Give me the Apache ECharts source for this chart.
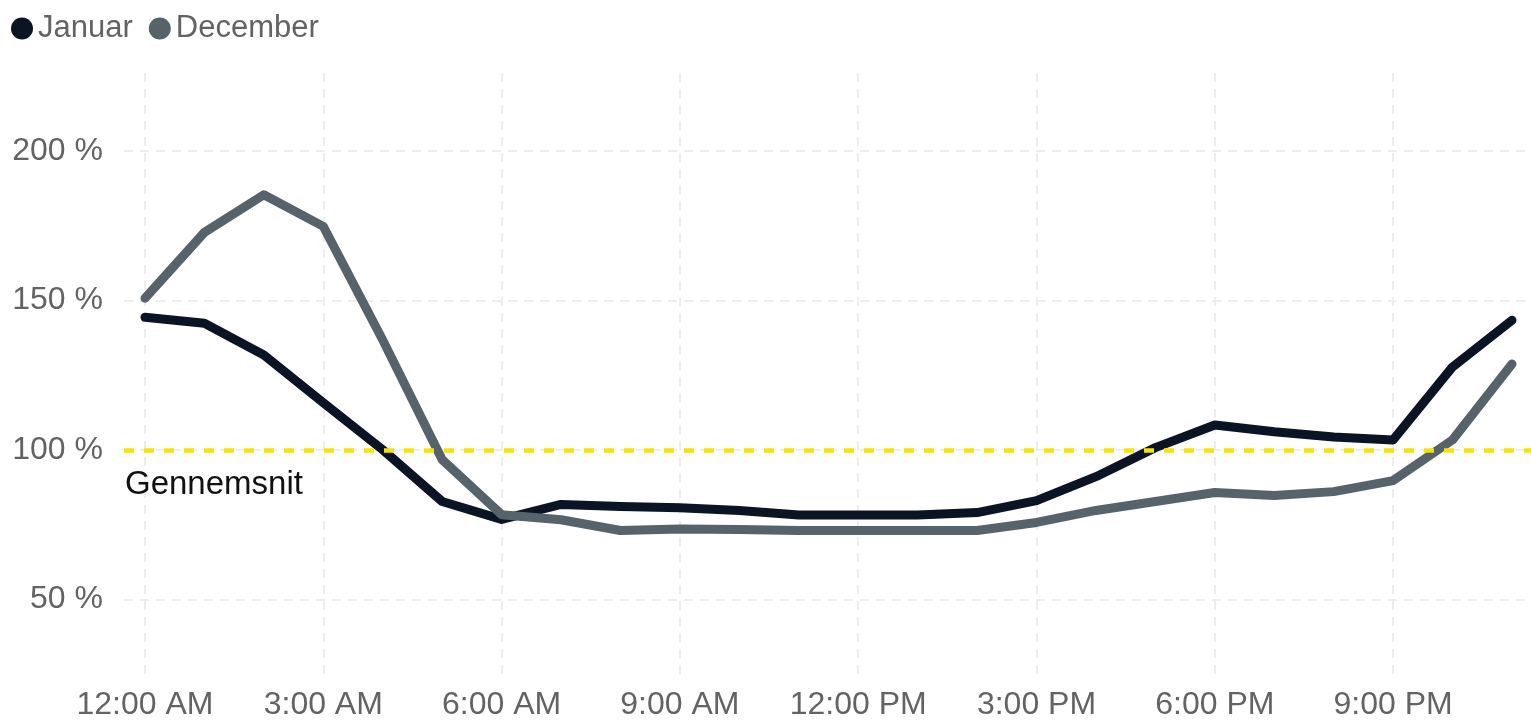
<!DOCTYPE html>
<html>
<head>
<meta charset="utf-8">
<script src="https://cdn.jsdelivr.net/npm/echarts@6/dist/echarts.min.js"></script>
<style>
  html, body { margin: 0; padding: 0; background: #fff; }
  #chart { width: 1531px; height: 721px; }
</style>
</head>
<body>
<div id="chart"></div>
<script>
// Hour of day (0 = midnight)
const hours = [0,1,2,3,4,5,6,7,8,9,10,11,12,13,14,15,16,17,18,19,20,21,22,23];

// Consumption relative to the daily average, in percent
const januar = [144.3,142.3,131.7,115.7,100.0,82.7,76.7,81.7,81.0,80.6,79.7,78.2,78.2,78.2,79.0,83.0,91.0,100.7,108.3,106.0,104.3,103.3,127.7,143.3];
const december = [150.7,172.7,185.3,174.7,136.7,96.7,78.3,76.6,73.0,73.5,73.3,73.0,73.0,73.0,73.0,75.7,79.7,82.7,85.7,84.7,86.0,89.7,103.3,128.7];

// Axis ticks
const xTickHours = [0,3,6,9,12,15,18,21];
const xTickLabels = ['12:00 AM','3:00 AM','6:00 AM','9:00 AM','12:00 PM','3:00 PM','6:00 PM','9:00 PM'];
const yTickValues = [50,100,150,200];
const averageLevel = 100;
const averageLabel = 'Gennemsnit';

const FONT = '"Liberation Sans", Arial, sans-serif';
const TEXT_GRAY = '#636363';
const GRID_GRAY = '#ededed';

const chart = echarts.init(document.getElementById('chart'), null, { renderer: 'canvas' });

const toPairs = vals => hours.map((h, i) => [h, vals[i]]);

chart.setOption({
  animation: false,
  backgroundColor: '#ffffff',
  legend: {
    left: 6,
    top: 8,
    icon: 'circle',
    itemWidth: 22,
    itemHeight: 22,
    itemGap: 16,
    textStyle: { fontFamily: FONT, fontSize: 31, color: TEXT_GRAY },
    data: ['Januar', 'December']
  },
  grid: { left: 124, right: 0, top: 73, bottom: 41, containLabel: false },
  xAxis: {
    type: 'value',
    min: -0.353,
    max: 23.32,
    axisLine: { show: false },
    axisTick: { show: false, customValues: xTickHours },
    axisLabel: {
      customValues: xTickHours,
      margin: 9,
      fontFamily: FONT,
      fontSize: 32,
      color: TEXT_GRAY,
      formatter: v => xTickLabels[xTickHours.indexOf(v)]
    },
    splitLine: {
      show: true,
      lineStyle: { color: GRID_GRAY, width: 2, type: [9, 7] }
    }
  },
  yAxis: {
    type: 'value',
    min: 23,
    max: 226,
    axisLine: { show: false },
    axisTick: { show: false, customValues: yTickValues },
    axisLabel: {
      customValues: yTickValues,
      margin: 21,
      fontFamily: FONT,
      fontSize: 32,
      color: TEXT_GRAY,
      formatter: v => v + ' %'
    },
    splitLine: {
      show: true,
      lineStyle: { color: GRID_GRAY, width: 2, type: [9, 7] }
    }
  },
  series: [
    {
      name: 'Januar',
      type: 'line',
      data: toPairs(januar),
      showSymbol: false,
      symbol: 'circle',
      color: '#0b1424',
      lineStyle: { width: 9, color: '#0b1424', cap: 'round', join: 'round' },
      z: 3
    },
    {
      name: 'December',
      type: 'line',
      data: toPairs(december),
      showSymbol: false,
      symbol: 'circle',
      color: '#56636a',
      lineStyle: { width: 9, color: '#56636a', cap: 'round', join: 'round' },
      z: 4
    },
    {
      name: 'avg',
      type: 'line',
      data: [],
      z: 6,
      markLine: {
        silent: true,
        symbol: ['none', 'none'],
        lineStyle: { color: '#f5e20f', width: 4.5, type: [10, 10] },
        label: {
          show: true,
          position: 'insideStartBottom',
          formatter: averageLabel,
          fontFamily: FONT,
          fontSize: 33,
          color: '#111111',
          distance: [1, 19]
        },
        data: [{ yAxis: averageLevel }]
      }
    }
  ]
});
</script>
</body>
</html>
